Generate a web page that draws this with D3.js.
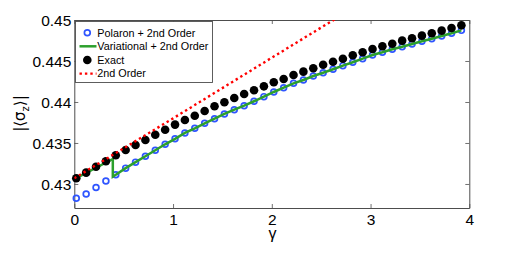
<!DOCTYPE html>
<html><head><meta charset="utf-8">
<script src="https://cdn.jsdelivr.net/npm/d3@7"></script>
<style>body{margin:0;background:#fff}svg{display:block}text{font-family:"Liberation Sans",Arial,Helvetica,sans-serif}</style>
</head><body>
<svg id="c" width="519" height="268"></svg>
<script>
const gammaVals = [0.02,0.12,0.22,0.32,0.42,0.52,0.62,0.72,0.82,0.92,1.02,1.12,1.22,1.32,1.42,1.52,1.62,1.72,1.82,1.92,2.02,2.12,2.22,2.32,2.42,2.52,2.62,2.72,2.82,2.92,3.02,3.12,3.22,3.32,3.42,3.52,3.62,3.72,3.82,3.92];
const exactVals = [0.43070,0.43138,0.43211,0.43277,0.43350,0.43415,0.43476,0.43537,0.43601,0.43662,0.43724,0.43780,0.43833,0.43890,0.43948,0.43996,0.44049,0.44098,0.44143,0.44191,0.44240,0.44280,0.44329,0.44370,0.44412,0.44455,0.44491,0.44528,0.44570,0.44606,0.44646,0.44679,0.44711,0.44748,0.44777,0.44809,0.44838,0.44870,0.44902,0.44935];
const polaronVals = [0.42826,0.42878,0.42957,0.43037,0.43112,0.43193,0.43266,0.43338,0.43412,0.43484,0.43551,0.43622,0.43679,0.43740,0.43796,0.43854,0.43906,0.43955,0.44009,0.44065,0.44122,0.44174,0.44228,0.44268,0.44317,0.44357,0.44399,0.44443,0.44484,0.44528,0.44573,0.44606,0.44643,0.44674,0.44707,0.44740,0.44772,0.44805,0.44838,0.44874];
const variationalHeadGamma = [0.0, 0.39, 0.39];
const variationalHeadVals = [0.4306, 0.43305, 0.43089];
const secondOrderGamma = [0.0, 1.0, 2.0, 2.7];
const secondOrderVals = [0.4307, 0.4380, 0.4454, 0.45055];
const xTicks = [0,1,2,3,4];
const yTicks = [0.43,0.435,0.44,0.445,0.45];
const legendLabels = ["Polaron + 2nd Order","Variational + 2nd Order","Exact","2nd Order"];

const svg = d3.select("#c");
const L=74.3, R=469.3, T=20, B=208;
const x = d3.scaleLinear([0,4],[L,R]);
const y = d3.scaleLinear([0.42707,0.45],[B,T]);
const axisColor="#4d4d4d";
const blue="#2f55ff", green="#2ca02c", red="#ff0000";

svg.append("defs").append("clipPath").attr("id","clip").append("rect")
  .attr("x",L).attr("y",T).attr("width",R-L).attr("height",B-T);

// axes
const gx = svg.append("g").attr("transform",`translate(0,${B})`)
  .call(d3.axisBottom(x).tickValues(xTicks).tickFormat(d3.format("d")).tickSizeInner(-4).tickSizeOuter(0).tickPadding(6));
const gxt = svg.append("g").attr("transform",`translate(0,${T})`)
  .call(d3.axisTop(x).tickValues(xTicks).tickFormat("").tickSizeInner(-4).tickSizeOuter(0));
const gy = svg.append("g").attr("transform",`translate(${L},0)`)
  .call(d3.axisLeft(y).tickValues(yTicks).tickFormat(d=>String(+d.toFixed(3))).tickSizeInner(-4).tickSizeOuter(0).tickPadding(3));
const gyr = svg.append("g").attr("transform",`translate(${R},0)`)
  .call(d3.axisRight(y).tickValues(yTicks).tickFormat("").tickSizeInner(-4).tickSizeOuter(0));
[gx,gxt,gy,gyr].forEach(g=>{
  g.selectAll("path").attr("stroke",axisColor).attr("stroke-width",1);
  g.selectAll("line").attr("stroke",axisColor).attr("stroke-width",0.8);
  g.selectAll("text").attr("fill","#000").style("font-size","15.5px").style("font-family","'Liberation Sans',Arial,sans-serif");
});
gy.selectAll("text").attr("dy","0.35em");

const plot = svg.append("g");

// polaron circles
plot.selectAll("circle.pol").data(gammaVals).join("circle").attr("class","pol")
  .attr("cx",d=>x(d)).attr("cy",(d,i)=>y(polaronVals[i])).attr("r",2.9)
  .attr("fill","none").attr("stroke",blue).attr("stroke-width",1.7);

// variational line
const varPts = variationalHeadGamma.map((g,i)=>[g,variationalHeadVals[i]])
  .concat(gammaVals.slice(4).map((g,i)=>[g,polaronVals[i+4]]));
plot.append("path").datum(varPts)
  .attr("d",d3.line().x(d=>x(d[0])).y(d=>y(d[1])))
  .attr("fill","none").attr("stroke",green).attr("stroke-width",2.5).attr("clip-path","url(#clip)");

// exact
plot.selectAll("circle.ex").data(gammaVals).join("circle").attr("class","ex")
  .attr("cx",d=>x(d)).attr("cy",(d,i)=>y(exactVals[i])).attr("r",4.3).attr("fill","#000");

// 2nd order
plot.append("path").datum(secondOrderGamma.map((g,i)=>[g,secondOrderVals[i]]))
  .attr("d",d3.line().x(d=>x(d[0])).y(d=>y(d[1])))
  .attr("fill","none").attr("stroke",red).attr("stroke-width",2.4)
  .attr("stroke-dasharray","2.4,3").attr("clip-path","url(#clip)");

// legend
const lg = svg.append("g");
lg.append("rect").attr("x",75.5).attr("y",21.5).attr("width",137).attr("height",61)
  .attr("fill","#fff").attr("stroke",axisColor).attr("stroke-width",0.9);
const rowsY=[32.7,46.3,60.0,73.6];
lg.append("circle").attr("cx",87.3).attr("cy",rowsY[0]).attr("r",2.9).attr("fill","none").attr("stroke",blue).attr("stroke-width",1.7);
lg.append("line").attr("x1",79.5).attr("x2",96.5).attr("y1",rowsY[1]).attr("y2",rowsY[1]).attr("stroke",green).attr("stroke-width",2.5);
lg.append("circle").attr("cx",87.3).attr("cy",rowsY[2]).attr("r",4.3).attr("fill","#000");
lg.append("line").attr("x1",79.5).attr("x2",96.5).attr("y1",rowsY[3]).attr("y2",rowsY[3]).attr("stroke",red).attr("stroke-width",2.4).attr("stroke-dasharray","2.4,3");
lg.selectAll("text.lt").data(legendLabels).join("text").attr("class","lt")
  .attr("x",97.3).attr("y",(d,i)=>rowsY[i]).attr("dy","0.36em")
  .style("font-size","10.8px").attr("fill","#000").text(d=>d);

// axis labels
svg.append("text").attr("x",272.5).attr("y",239).attr("text-anchor","middle")
  .style("font-size","16px").style("font-family","'Liberation Sans',Arial,sans-serif").attr("fill","#000").text("γ");
const yl = svg.append("text").attr("transform","translate(25,113.5) rotate(-90)")
  .attr("text-anchor","middle").style("font-size","15px").style("font-family","'DejaVu Sans',sans-serif").attr("fill","#000");
yl.append("tspan").text("|⟨σ");
yl.append("tspan").attr("dy",4).style("font-size","10px").text("z");
yl.append("tspan").attr("dy",-4).text("⟩|");
</script>
</body></html>
